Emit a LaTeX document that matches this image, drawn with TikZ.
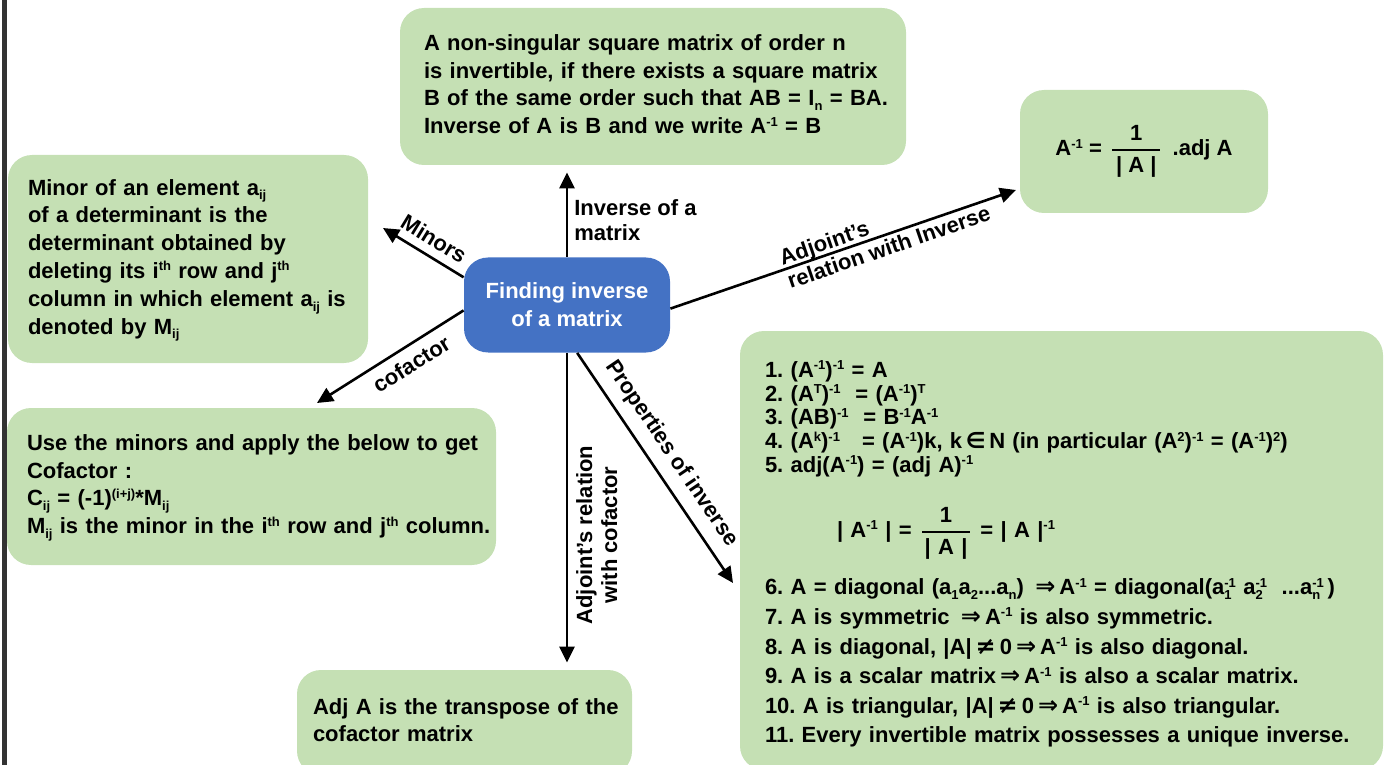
\documentclass[tikz,border=0pt]{standalone}
\usepackage{amsmath}
\usepackage{fontspec}
\setmainfont{Liberation Sans}
\newfontfamily\symfont{DejaVu Sans}
\usetikzlibrary{arrows.meta}
\frenchspacing

\definecolor{leaf}{HTML}{C5E0B4}
\definecolor{hubblue}{HTML}{4472C4}
\definecolor{rail}{HTML}{333333}

\newcommand{\up}[1]{\raisebox{3.8pt}{\fontsize{6.5}{6.5}\selectfont #1}}
\newcommand{\dn}[1]{\raisebox{-2.4pt}{\fontsize{6.5}{6.5}\selectfont #1}}
\newcommand{\updn}[2]{\rlap{\dn{#1}}\up{#2}}
\newcommand{\inv}{\up{-1}}
\newcommand{\imp}{{\symfont\fontsize{12}{12}\selectfont\,⇒\,}}
\newcommand{\nq}{{\symfont\fontsize{12}{12}\selectfont\,≠\,}}
\newcommand{\memb}{{\symfont\,∈\,}}
\newcommand{\frc}[3]{$\displaystyle\genfrac{}{}{0.9pt}{0}{\makebox[#1]{#2}}{\makebox[#1]{#3}}$}
\newcommand{\rows}[1]{\begin{tabular}{@{}l@{}}#1\end{tabular}}

\begin{document}
\begin{tikzpicture}[x=0.5pt, y=-0.5pt,
    leafbox/.style={rectangle, rounded corners=12pt, fill=leaf, align=left,
        font=\bfseries\fontsize{11}{13.9}\selectfont},
    hubbox/.style={rectangle, rounded corners=12pt, fill=hubblue, text=white, align=center,
        font=\bfseries\fontsize{11}{14}\selectfont, minimum width=103pt, minimum height=47.5pt},
    link/.style={line width=1.3pt, -{Triangle[length=8pt,width=7.5pt]}},
    tag/.style={font=\bfseries\fontsize{11}{12.5}\selectfont, inner sep=1pt}]
    \useasboundingbox (0,0) rectangle (1389,765);
    \fill[rail] (2,0) rectangle (7,765);

    \node[hubbox] (hub) at (567,305) {Finding inverse\\of a matrix};

    \node[leafbox, minimum width=253pt, minimum height=78.5pt, inner xsep=12pt, text width=229pt] (def) at (653,86.5)
        {\rows{A non-singular square matrix of order n\\is invertible, if there exists a square matrix\\B of the same order such that AB = I\dn{n} = BA.\\Inverse of A is B and we write A\inv{} = B}};
    \node[leafbox, align=center, minimum width=124pt, minimum height=61.5pt] (form) at (1144,151.5)
        {A\inv{} =\hspace{4pt}\frc{24pt}{1}{| A |}\hspace{5pt}.adj A};
    \node[leafbox, minimum width=180pt, minimum height=104pt, inner xsep=10pt, text width=160pt] (minor) at (188,259)
        {\rows{Minor of an element a\dn{ij}\\of a determinant is the\\determinant obtained by\\deleting its i\up{th} row and j\up{th}\\column in which element a\dn{ij} is\\denoted by M\dn{ij}}};
    \node[leafbox, minimum width=244.5pt, minimum height=78.5pt, inner xsep=10pt, text width=224.5pt] (cof) at (251.5,486.5)
        {\rows{Use the minors and apply the below to get\\Cofactor :\\C\dn{ij} = (-1)\up{(i+j)}*M\dn{ij}\\M\dn{ij} is the minor in the i\up{th} row and j\up{th} column.}};
    \node[leafbox, minimum width=167.5pt, minimum height=52.5pt, inner xsep=8pt, text width=151.5pt] (adj) at (464.5,722.5)
        {\rows{Adj A is the transpose of the\\cofactor matrix}};
    \node[leafbox, minimum width=321.5pt, minimum height=219.5pt, inner xsep=12.5pt, text width=296.5pt,
        font=\bfseries\fontsize{11}{11.75}\selectfont] (prop) at (1061.5,550.5)
        {\rows{\rule{0pt}{13.2pt}1. (A\inv)\inv{} = A\\
        2. (A\up{T})\inv{}\ \ = (A\inv)\up{T}\\
        3. (AB)\inv{}\ \ = B\inv A\inv\\
        4. (A\up{k})\inv{}\ \ \ = (A\inv)k, k\memb N (in particular (A\up{2})\inv{} = (A\inv)\up{2})\\
        5. adj(A\inv) = (adj A)\inv\\[14pt]
        \hspace*{36pt}| A\inv{} | =\hspace{4pt}\frc{24pt}{1}{| A |}\hspace{4pt}= | A |\up{-1}\\[17pt]
        6. A = diagonal (a\dn{1}a\dn{2}...a\dn{n}) \imp A\inv{} = diagonal(a\updn{1}{-1}\ a\updn{2}{-1}\ \ ...a\updn{n}{-1}\,)\\[3pt]
        7. A is symmetric \imp A\inv{} is also symmetric.\\[3pt]
        8. A is diagonal, |A|\nq 0\imp A\inv{} is also diagonal.\\[3pt]
        9. A is a scalar matrix\imp A\inv{} is also a scalar matrix.\\[3pt]
        10. A is triangular, |A|\nq 0\imp A\inv{} is also triangular.\\[3pt]
        11. Every invertible matrix possesses a unique inverse.}};

    \coordinate (M) at (383,228);
    \coordinate (C) at (317,403);
    \coordinate (I) at (1016,190);
    \coordinate (P) at (733,583);

    \draw[link, shorten >=3.5pt] (hub.north) -- (hub.north |- def.south)
        node[tag, pos=0.4, anchor=west, xshift=2pt, align=left] {Inverse of a\\matrix};
    \draw[link] (hub.165) -- (M) node[tag, pos=0.48, sloped, above=3pt] {Minors};
    \draw[link] (hub.183) -- (C) node[tag, pos=0.42, sloped, below=3pt] {cofactor};
    \draw[link] (hub.358) -- (I) node[tag, pos=0.62, sloped, align=left] {Adjoint's\\relation with Inverse};
    \draw[link] (hub.282) -- (P) node[tag, pos=0.49, sloped, above=4pt] {Properties of inverse};
    \draw[link, shorten >=3.5pt] (hub.south) -- (hub.south |- adj.north)
        node[tag, pos=0.575, rotate=90, below=3pt, align=center] {Adjoint's relation\\with cofactor};
\end{tikzpicture}
\end{document}
